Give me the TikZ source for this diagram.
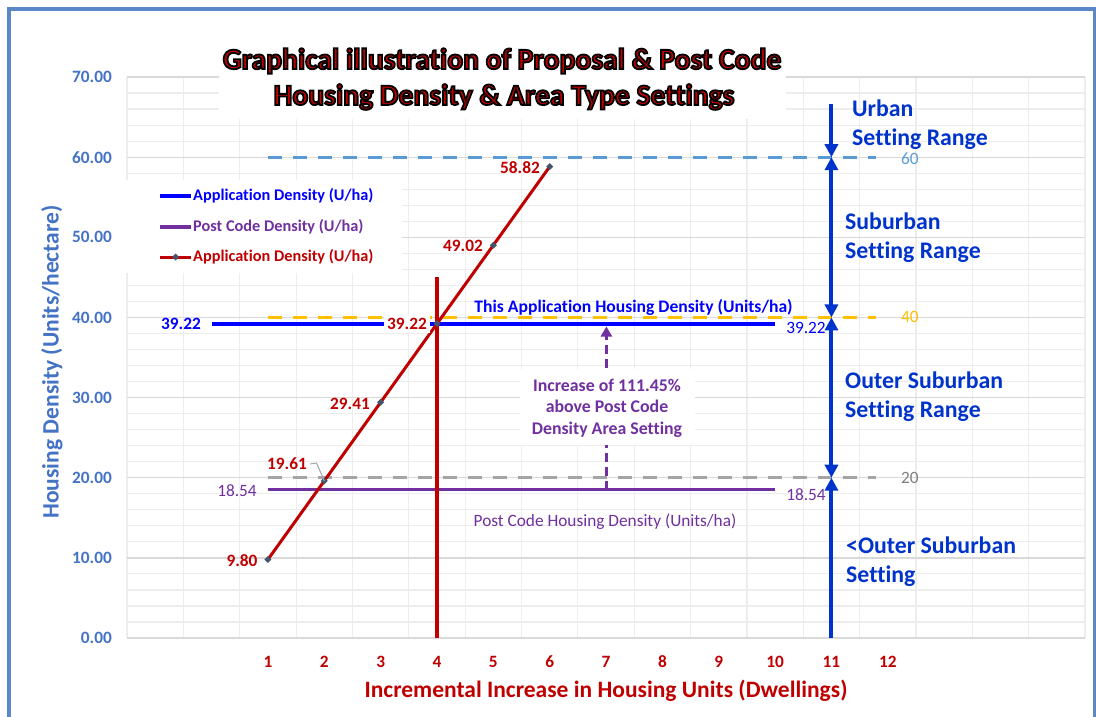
\documentclass[tikz,border=0pt]{standalone}
\usepackage{fontspec}
\setmainfont{Carlito}[Ligatures=NoCommon]
\usetikzlibrary{arrows.meta}
\definecolor{frameblue}{HTML}{5B87C6}
\definecolor{ticblue}{HTML}{4472C4}
\definecolor{dred}{HTML}{C00000}
\definecolor{appblue}{HTML}{0000FF}
\definecolor{pcpurple}{HTML}{7030A0}
\definecolor{rangeblue}{HTML}{0033CC}
\definecolor{dashsixty}{HTML}{5B9BD5}
\definecolor{dashforty}{HTML}{FFC000}
\definecolor{dashtwenty}{HTML}{A5A5A5}
\definecolor{labtwenty}{HTML}{7F7F7F}
\definecolor{markcol}{HTML}{44546A}
\definecolor{gridmajor}{HTML}{D9D9D9}
\definecolor{gridminor}{HTML}{EDEDED}
\tikzset{
  lab/.style={font=\fontsize{17.3}{20}\selectfont\bfseries, inner sep=0pt},
  labreg/.style={font=\fontsize{17.3}{20}\selectfont, inner sep=0pt},
  legtext/.style={font=\fontsize{16.3}{19}\selectfont\bfseries, inner sep=0pt, anchor=west},
  rangetext/.style={font=\fontsize{23.8}{29}\selectfont\bfseries, text=rangeblue, align=left, inner sep=0pt, anchor=west},
  axtitle/.style={font=\fontsize{23.5}{26}\selectfont\bfseries, inner sep=0pt},
  titletext/.style={font=\fontsize{29.6}{34}\selectfont\bfseries, inner sep=0pt},
  rangearrow/.style={rangeblue, line width=4pt},
  dashline/.style={line width=3pt, dash pattern=on 14pt off 11pt},
  rtip/.tip={Triangle[length=13pt,width=13pt]},
  ptip/.tip={Triangle[length=10pt,width=11pt]},
}
\newcommand{\mkdiamond}[1]{\fill[markcol] (#1) ++(0pt,3.5pt) -- ++(3.5pt,-3.5pt) -- ++(-3.5pt,-3.5pt) -- ++(-3.5pt,3.5pt) -- cycle;}
\newcommand{\outlinedtext}[1]{\special{pdf:literal direct 0 0 0 RG 2 Tr 1.8 w}#1\special{pdf:literal direct 0 Tr}}
\begin{document}
\begin{tikzpicture}[x=1pt,y=-1pt]
\useasboundingbox (0,0) rectangle (1096,717);
\fill[white] (0,0) rectangle (1096,717);
% outer frame
\draw[frameblue, line width=4pt] (8.5,720) -- (8.5,9) -- (1094.5,9) -- (1094.5,720);

\begin{scope}[shift={(211.6,638)}, x=56.35pt, y=8.014pt]
  % grid
  \foreach \v in {2,4,...,68} \draw[gridminor, line width=1.2pt] (-1.5,\v) -- (15.5,\v);
  \foreach \u in {-1.5,-0.5,...,15.6} \draw[gridminor, line width=1.2pt] (\u,0) -- (\u,70);
  \foreach \v in {10,20,...,70} \draw[gridmajor, line width=1.3pt] (-1.5,\v) -- (15.5,\v);
  \draw[gridmajor, line width=1.6pt] (-1.5,0) -- (15.5,0);
\end{scope}

% white label backgrounds covering the grid
\fill[white] (219,38) rectangle (786,119);
\fill[white] (120,180) rectangle (402,273);
\fill[white] (520,369) rectangle (695,445);

\begin{scope}[shift={(211.6,638)}, x=56.35pt, y=8.014pt]
  % axis tick labels
  \foreach \v in {0,10,...,70}
    \node[lab, text=ticblue, anchor=east] (yt\v) at ([xshift=-15pt]-1.5,\v) {\v.00};
  \foreach \u in {1,...,12}
    \node[lab, text=dred] (xt\u) at ([yshift=-24pt]\u,0) {\u};

  % setting thresholds (dashed)
  \coordinate (s60a) at (1,60);  \coordinate (s60b) at (11.79,60);
  \coordinate (s40a) at (1,40);  \coordinate (s40b) at (11.79,40);
  \coordinate (s20a) at (1,20);  \coordinate (s20b) at (11.79,20);
  \draw[dashline, dashsixty] (s60a) -- (s60b);
  \draw[dashline, dashforty] (s40a) -- (s40b);
  \draw[dashline, dashtwenty] (s20a) -- (s20b);
  \node[labreg, text=dashsixty] (l60) at ([xshift=34pt, yshift=-1.5pt]s60b) {60};
  \node[labreg, text=dashforty] (l40) at ([xshift=34pt]s40b) {40};
  \node[labreg, text=labtwenty] (l20) at ([xshift=34pt]s20b) {20};

  % application density (blue)
  \coordinate (appA) at (0,39.22); \coordinate (appB) at (10,39.22);
  \draw[appblue, line width=4pt] (appA) -- (appB);
  % post code density (purple)
  \coordinate (pcA) at (1,18.54); \coordinate (pcB) at (10,18.54);
  \draw[pcpurple, line width=3.5pt] (pcA) -- (pcB);

  % red vertical at 4 units
  \coordinate (vA) at (4,0); \coordinate (vB) at (4,45);
  \draw[dred, line width=4pt] (vA) -- (vB);

  % red series
  \coordinate (p1) at (1,9.80);
  \coordinate (p2) at (2,19.61);
  \coordinate (p3) at (3,29.41);
  \coordinate (p4) at (4,39.22);
  \coordinate (p5) at (5,49.02);
  \coordinate (p6) at (6,58.82);
  \draw[dred, line width=3pt] (p1) -- (p2) -- (p3) -- (p4) -- (p5) -- (p6);
  \foreach \p in {p1,p2,p3,p4,p5,p6} {\mkdiamond{\p}}

  % range arrows
  \coordinate (r0) at (11,0);
  \coordinate (r20) at (11,20);
  \coordinate (r40) at (11,40);
  \coordinate (r60) at (11,60);
  \coordinate (rtop) at (11,66.6);
  \draw[rangearrow, -{rtip}] (rtop) -- (r60);
  \draw[rangearrow, {rtip}-{rtip}] (r60) -- (r40);
  \draw[rangearrow, {rtip}-{rtip}] (r40) -- (r20);
  \draw[rangearrow, {rtip}-] (r20) -- (r0);
\end{scope}

% data labels
\node[lab, text=appblue] (appL) at (181,324) {39.22};
\node[labreg, text=appblue] (appR) at (806,327.5) {39.22};
\node[labreg, text=pcpurple] (pcL) at (237,491) {18.54};
\node[labreg, text=pcpurple] (pcR) at (806,494.5) {18.54};
\node[lab, text=dred] (d1) at (242,561) {9.80};
\node[lab, text=dred] (d2) at (287,464) {19.61};
\node[lab, text=dred] (d3) at (350,404) {29.41};
\node[lab, text=dred, fill=white, inner xsep=3pt, inner ysep=3pt] (d4) at (407,324) {39.22};
\node[lab, text=dred] (d5) at (463,246) {49.02};
\node[lab, text=dred] (d6) at (520,168) {58.82};
\coordinate (lead1) at (316.5,463);
\draw[dashtwenty, line width=1pt] ([xshift=3pt]d2.east) -- (lead1) -- (p2);

% annotations
\node[text=appblue, font=\fontsize{17.6}{20}\selectfont\bfseries, inner sep=0pt] (appnote) at (633.5,307) {This\ Application\ Housing\ Density\ (Units/ha)};
\node[labreg, text=pcpurple] (pcnote) at (605,522) {Post Code Housing Density (Units/ha)};
\node[text=pcpurple, align=center, font=\fontsize{17.8}{21.5}\selectfont\bfseries, inner sep=0pt] (incr) at (607,408)
  {Increase of 111.45\%\\above Post Code\\Density Area Setting};
\coordinate (incrBot) at (606.4,490);
\coordinate (incrLow) at (606.4,445);
\coordinate (incrHigh) at (606.4,368);
\coordinate (incrTip) at (606.4,326.5);
\draw[pcpurple, line width=3pt, dash pattern=on 9pt off 5pt] (incrBot) -- (incrLow);
\draw[pcpurple, line width=3pt, dash pattern=on 9pt off 5pt, -{ptip}] (incrHigh) -- (incrTip);

% range texts
\node[rangetext] (urban) at (852,124.5) {Urban\\Setting Range};
\node[rangetext] (suburban) at (845,238) {Suburban\\Setting Range};
\node[rangetext] (outer) at (845,397) {Outer Suburban\\Setting Range};
\node[rangetext] (below) at (846,562) {<Outer Suburban\\Setting};

% legend
\coordinate (lg1a) at (160,196); \coordinate (lg1b) at (191,196);
\coordinate (lg2a) at (160,227); \coordinate (lg2b) at (191,227);
\coordinate (lg3a) at (160,257); \coordinate (lg3b) at (191,257);
\draw[appblue, line width=4pt] (lg1a) -- (lg1b);
\draw[pcpurple, line width=3.5pt] (lg2a) -- (lg2b);
\draw[dred, line width=3pt] (lg3a) -- (lg3b);
\mkdiamond{175.5,257}
\node[legtext, text=appblue] (lgt1) at (193,196) {Application Density (U/ha)};
\node[legtext, text=pcpurple] (lgt2) at (193,227) {Post Code Density (U/ha)};
\node[legtext, text=dred] (lgt3) at (193,257) {Application Density (U/ha)};

% axis titles
\node[axtitle, text=ticblue, rotate=90] (ytitle) at (52,362) {Housing Density (Units/hectare)};
\node[axtitle, text=dred] (xtitle) at (606,691) {Incremental Increase in Housing Units (Dwellings)};

% chart title with dark outline (fill + stroke text rendering)
\node[titletext, text=dred] (title1) at (502,61) {\outlinedtext{Graphical illustration of Proposal \& Post Code}};
\node[titletext, text=dred] (title2) at (504,97) {\outlinedtext{Housing Density \& Area Type Settings}};
\end{tikzpicture}
\end{document}
